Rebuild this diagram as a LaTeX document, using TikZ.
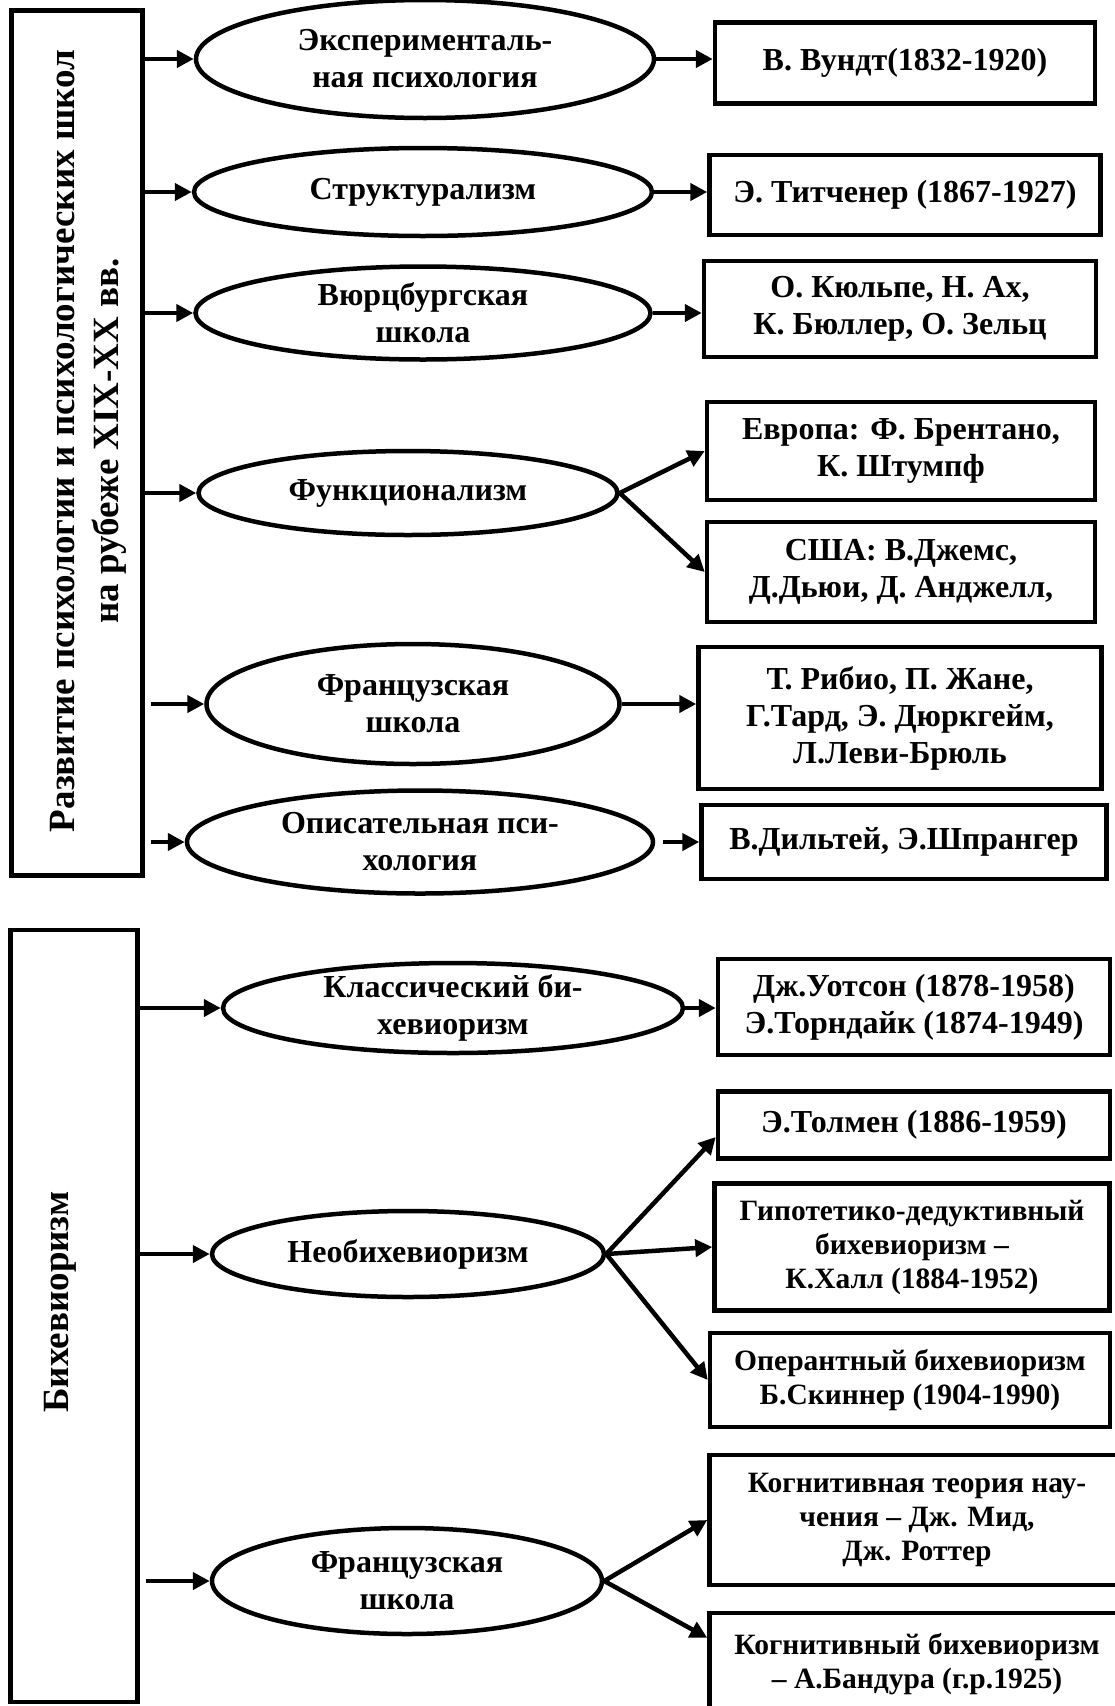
\documentclass[tikz,border=0pt]{standalone}
\usepackage{fontspec}
\setmainfont{Liberation Serif}
\usetikzlibrary{shapes.geometric,arrows.meta,calc}

\newcommand{\fbody}{\fontsize{32}{37}\selectfont\bfseries}
\newcommand{\fsmall}{\fontsize{29.5}{34}\selectfont\bfseries}
\newcommand{\ftitle}{\fontsize{37}{44}\selectfont\bfseries}

\tikzset{
  nodebox/.style={draw, rectangle, line width=4.5pt, align=center, inner sep=2pt, font=\fbody},
  nodeoval/.style={draw, ellipse, line width=4.5pt, align=center, inner sep=-4pt, font=\fbody},
  linkarrow/.style={line width=4.5pt, -{Triangle[length=17pt,width=17pt]}},
}

\begin{document}
\begin{tikzpicture}[x=1pt,y=-1pt]
        \clip (0,0) rectangle (1115,1706);
        \fill[white] (0,0) rectangle (1115,1706);

        % Верхний блок: развитие психологии на рубеже веков
        \node[nodebox, minimum width=131pt, minimum height=865pt](nroot1) at (77,443) {};
        \node[rotate=90, align=center, font=\ftitle](ntitle1) at (88,441) {Развитие психологии и психологических школ\\на рубеже XIX-XX вв.};

        % Школы (овалы)
        \node[nodeoval, minimum width=458pt, minimum height=118pt](nexp) at (425,59) {Эксперименталь-\\ная психология};
        \node[nodeoval, minimum width=458pt, minimum height=88pt](nstruct) at (423,192) {Структурализм};
        \node[nodeoval, minimum width=455pt, minimum height=93pt](nwurz) at (423,313) {Вюрцбургская\\школа};
        \node[nodeoval, minimum width=419pt, minimum height=84pt](nfunc) at (408,493) {Функционализм};
        \node[nodeoval, minimum width=413pt, minimum height=120pt](nfrench) at (413,704) {Французская\\школа};
        \node[nodeoval, minimum width=466pt, minimum height=103pt](ndescr) at (420,842) {Описательная пси-\\хология};

        % Представители
        \node[nodebox, minimum width=380pt, minimum height=81pt](nwundt) at (905,63) {В. Вундт(1832-1920)};
        \node[nodebox, minimum width=391pt, minimum height=80pt](ntitch) at (905,195) {Э. Титченер (1867-1927)};
        \node[nodebox, minimum width=392pt, minimum height=96pt](nkulpe) at (900,309) {О. Кюльпе, Н. Ах,\\К. Бюллер, О. Зельц};
        \node[nodebox, minimum width=388pt, minimum height=98pt](neurope) at (901,451) {Европа: Ф. Брентано,\\К. Штумпф};
        \node[nodebox, minimum width=388pt, minimum height=100pt](nusa) at (901,572) {США: В.Джемс,\\Д.Дьюи, Д. Анджелл,};
        \node[nodebox, minimum width=403pt, minimum height=142pt](nribot) at (900,718) {Т. Рибио, П. Жане,\\Г.Тард, Э. Дюркгейм,\\Л.Леви-Брюль};
        \node[nodebox, minimum width=405pt, minimum height=74pt](ndilthey) at (904,842) {В.Дильтей, Э.Шпрангер};

        % Стрелки к школам
        \draw[linkarrow] (nroot1.east |- nexp.west) -- (nexp.west);
        \draw[linkarrow] (nroot1.east |- nstruct.west) -- (nstruct.west);
        \draw[linkarrow] (nroot1.east |- nwurz.west) -- (nwurz.west);
        \draw[linkarrow] (nroot1.east |- nfunc.west) -- (nfunc.west);
        \draw[linkarrow, shorten <=6pt] (nroot1.east |- nfrench.west) -- (nfrench.west);
        \draw[linkarrow, shorten <=6pt] (nroot1.east |- ndescr.west) -- (ndescr.west);

        % Стрелки к представителям
        \draw[linkarrow] (nexp.east) -- (nexp.east -| nwundt.west);
        \draw[linkarrow] (nstruct.east) -- (nstruct.east -| ntitch.west);
        \draw[linkarrow] (nwurz.east) -- (nwurz.east -| nkulpe.west);
        \draw[linkarrow] (nfunc.east) -- (neurope.west);
        \draw[linkarrow] (nfunc.east) -- (nusa.west);
        \draw[linkarrow] (nfrench.east) -- (nfrench.east -| nribot.west);
        \draw[linkarrow, shorten <=8pt] (ndescr.east) -- (ndescr.east -| ndilthey.west);

        % Нижний блок: бихевиоризм
        \node[nodebox, minimum width=127pt, minimum height=772pt](nroot2) at (74,1316) {};
        \node[rotate=90, font=\ftitle](ntitle2) at (60,1302) {Бихевиоризм};

        \node[nodeoval, minimum width=460pt, minimum height=90pt](nclassic) at (453,1008) {Классический би-\\хевиоризм};
        \node[nodeoval, minimum width=392pt, minimum height=86pt](nneo) at (408,1254) {Необихевиоризм};
        \node[nodeoval, minimum width=390pt, minimum height=106pt](nfrenchb) at (407,1581) {Французская\\школа};

        \node[nodebox, minimum width=392pt, minimum height=96pt](nwatson) at (914,1007) {Дж.Уотсон (1878-1958)\\Э.Торндайк (1874-1949)};
        \node[nodebox, minimum width=392pt, minimum height=67pt](ntolman) at (914,1125) {Э.Толмен (1886-1959)};
        \node[nodebox, font=\fsmall, minimum width=395pt, minimum height=127pt](nhull) at (912,1247) {Гипотетико-дедуктивный\\бихевиоризм –\\К.Халл (1884-1952)};
        \node[nodebox, font=\fsmall, minimum width=400pt, minimum height=94pt](nskinner) at (910,1380) {Оперантный бихевиоризм\\Б.Скиннер (1904-1990)};
        \node[nodebox, font=\fsmall, minimum width=415pt, minimum height=130pt](nmead) at (917,1520) {Когнитивная теория нау-\\чения – Дж. Мид,\\Дж. Роттер};
        \node[nodebox, font=\fsmall, minimum width=415pt, minimum height=102pt](nbandura) at (917,1664) {Когнитивный бихевиоризм\\– А.Бандура (г.р.1925)};

        % Стрелки нижнего блока
        \draw[linkarrow] (nroot2.east |- nclassic.west) -- (nclassic.west);
        \draw[linkarrow] (nroot2.east |- nneo.west) -- (nneo.west);
        \draw[linkarrow, shorten <=6pt] (nroot2.east |- nfrenchb.west) -- (nfrenchb.west);
        \draw[linkarrow] (nclassic.east) -- (nclassic.east -| nwatson.west);
        \draw[linkarrow] (nneo.east) -- ($(ntolman.west)+(0,12)$);
        \draw[linkarrow] (nneo.east) -- (nhull.west);
        \draw[linkarrow] (nneo.east) -- (nskinner.west);
        \draw[linkarrow] (nfrenchb.east) -- (nmead.west);
        \draw[linkarrow] (nfrenchb.east) -- ($(nbandura.north west)+(0,27)$);
    \end{tikzpicture}
\end{document}
